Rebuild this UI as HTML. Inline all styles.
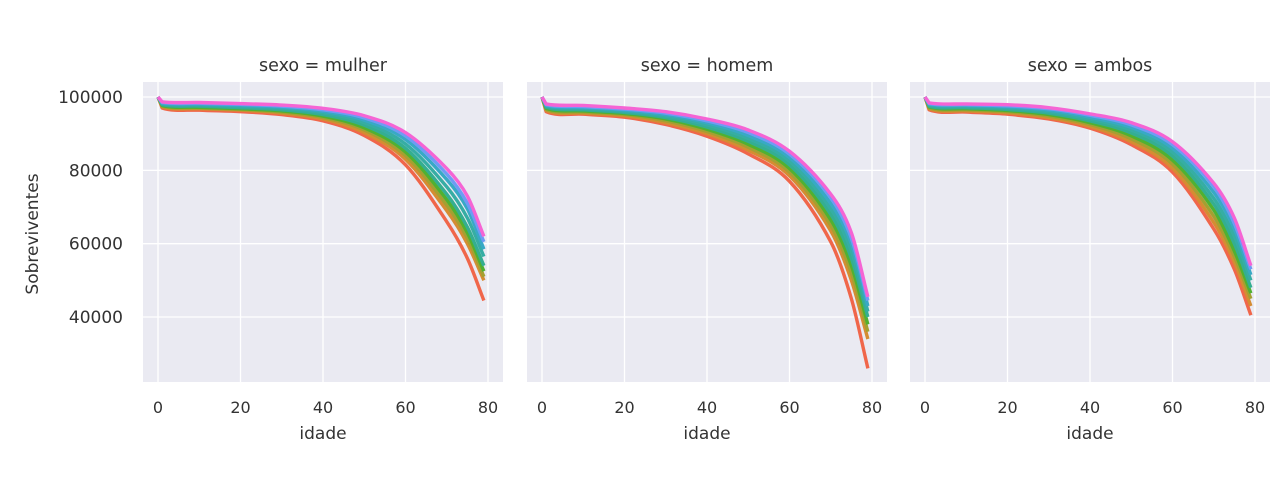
<!DOCTYPE html>
<html><head><meta charset="utf-8"><style>
body{margin:0;background:#fff;}
svg text{font-family:"DejaVu Sans","Liberation Sans",sans-serif;fill:#333;}
</style></head><body>
<svg id="chart" width="1279" height="499" viewBox="0 0 1279 499" xmlns="http://www.w3.org/2000/svg"></svg>
<script>
const ages=[0,1,10,20,30,40,50,60,70,75,79];
const panelTitles=["sexo = mulher","sexo = homem","sexo = ambos"];
const colors=["#f0664a","#d58c32","#a4a031","#50b131","#34ae91","#36ada4","#38a9c5","#6e9bf4","#f564d4"];
const xTicks=[0,20,40,60,80];
const yTicks=[40000,60000,80000,100000];
const mulher=[
[100000,97000,96400,96000,95200,93500,89500,81500,66000,56000,44500],
[100000,97300,96800,96400,95600,94000,90300,83000,69000,60000,50000],
[100000,97500,97000,96600,95900,94400,91000,84000,70500,61500,51000],
[100000,97700,97200,96800,96200,94800,91600,85000,72000,63000,52500],
[100000,97900,97500,97100,96500,95200,92300,86000,73500,64500,54000],
[100000,98100,97800,97400,96900,95700,93000,87200,75500,67000,56500],
[100000,98300,98000,97700,97200,96100,93700,88400,77500,69500,58500],
[100000,98500,98300,98000,97500,96500,94300,89400,79000,71000,60500],
[100000,98700,98500,98200,97800,96900,94900,90300,80500,73000,62000]];
const homem=[
[100000,96000,95300,94500,92500,89300,84500,77000,60500,45000,26000],
[100000,96300,95600,94900,93000,90000,85500,78500,63500,50000,34000],
[100000,96600,95900,95200,93500,90600,86300,79500,65000,52000,36000],
[100000,96900,96200,95500,94000,91200,87100,80500,66500,54000,38000],
[100000,97200,96500,95800,94400,91800,87900,81500,68000,56000,40000],
[100000,97500,96800,96100,94800,92400,88700,82500,69500,58000,41500],
[100000,97700,97100,96400,95200,93000,89500,83500,71000,60000,43000],
[100000,97900,97400,96700,95600,93500,90300,84400,72500,61500,44500],
[100000,98100,97700,97000,96000,94000,91000,85200,73500,63000,45500]];
const ambos=[
[100000,96500,95900,95300,94000,91500,87000,79500,64000,53000,40500],
[100000,96800,96200,95700,94400,92000,87800,80600,65800,55000,43000],
[100000,97000,96500,96000,94800,92500,88600,81700,67500,56500,45000],
[100000,97300,96800,96300,95200,93000,89400,82800,69200,58000,46500],
[100000,97500,97100,96600,95600,93500,90200,83900,70800,60000,48000],
[100000,97800,97400,97000,96000,94000,91000,85000,72400,62000,50000],
[100000,98000,97700,97300,96400,94500,91700,86000,74000,64000,51500],
[100000,98200,97900,97600,96800,95000,92400,87000,75500,65500,53000],
[100000,98400,98100,97900,97100,95400,93000,87800,76500,67000,54000]];
const panelData=[mulher,homem,ambos];

const svg=document.getElementById('chart');
const NS="http://www.w3.org/2000/svg";
function mk(tag,attrs,parent){const e=document.createElementNS(NS,tag);for(const k in attrs)e.setAttribute(k,attrs[k]);(parent||svg).appendChild(e);return e;}
const lefts=[143,527,910], W=360, TOP=82, H=300;
function yScale(v){return 97+(100000-v)/1000*3.667;}
function smooth(pts){
 const n=pts.length, m=[];
 for(let i=0;i<n;i++){
  if(i===0) m.push((pts[1][1]-pts[0][1])/(pts[1][0]-pts[0][0]));
  else if(i===n-1) m.push((pts[i][1]-pts[i-1][1])/(pts[i][0]-pts[i-1][0]));
  else m.push((pts[i+1][1]-pts[i-1][1])/(pts[i+1][0]-pts[i-1][0]));
 }
 let d="M"+pts[0][0]+","+pts[0][1];
 for(let i=0;i<n-1;i++){const dx=pts[i+1][0]-pts[i][0];
  if(i===0){d+=` L${pts[1][0]},${pts[1][1]}`;continue;}
  d+=` C${pts[i][0]+dx/3},${pts[i][1]+m[i]*dx/3} ${pts[i+1][0]-dx/3},${pts[i+1][1]-m[i+1]*dx/3} ${pts[i+1][0]},${pts[i+1][1]}`;}
 return d;}

panelData.forEach((series,pi)=>{
 const L=lefts[pi];
 const xScale=a=>L+15+a*4.125;
 const g=mk('g',{});
 
 
 const bg=mk('rect',{x:L,y:TOP,width:W,height:H,fill:'#eaeaf2'},g);
 
 
 xTicks.forEach(t=>{const x=xScale(t);
  const gl=mk('line',{x1:x,x2:x,y1:TOP,y2:TOP+H,stroke:'#fff','stroke-width':1.3},g);
  
  
  const tl=mk('text',{x:x,y:413,'font-size':16,'text-anchor':'middle'},g);tl.textContent=t;
  
  });
 yTicks.forEach(t=>{const y=yScale(t);
  const gl=mk('line',{x1:L,x2:L+W,y1:y,y2:y,stroke:'#fff','stroke-width':1.3},g);
  
  
  if(pi===0){const tl=mk('text',{x:123,y:y+6,'font-size':17,'text-anchor':'end'},g);tl.textContent=t;
  
  }});
 series.forEach((vals,si)=>{
  const pts=vals.map((v,i)=>[xScale(ages[i]),yScale(v)]);
  const p=mk('path',{d:smooth(pts),fill:'none',stroke:colors[si],'stroke-width':3.4,'stroke-linejoin':'round'},g);
  
  });
 const t=mk('text',{x:L+W/2,y:71,'font-size':17.5,'text-anchor':'middle'},g);t.textContent=panelTitles[pi];
 
 
 const xl=mk('text',{x:L+W/2,y:439,'font-size':17,'text-anchor':'middle'},g);xl.textContent='idade';
 
 
});
const yl=mk('text',{x:38,y:234,'font-size':17,'text-anchor':'middle',transform:'rotate(-90 38 234)'});yl.textContent='Sobreviventes';


</script>
</body></html>
